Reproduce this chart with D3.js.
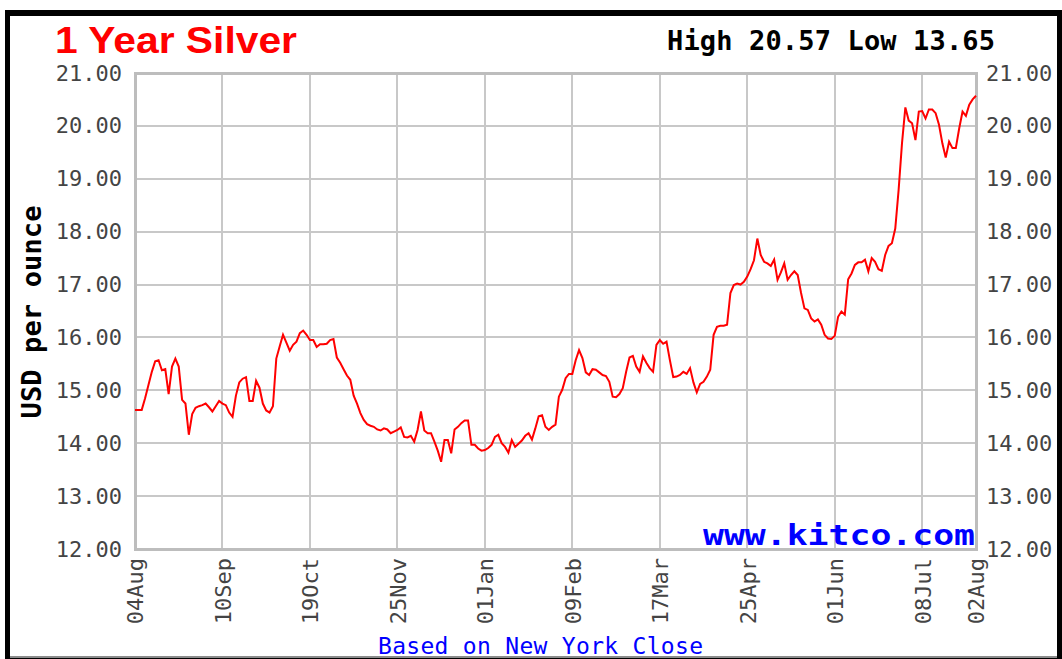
<!DOCTYPE html>
<html>
<head>
<meta charset="utf-8">
<script src="https://cdnjs.cloudflare.com/ajax/libs/d3/7.8.5/d3.min.js"></script>
<style>
    body { margin: 0; background: #fff; }
    svg { display: block; }
    .grid line { stroke: #c8c8c8; stroke-width: 2; shape-rendering: crispEdges; }
    .tick-label { font-family: "DejaVu Sans Mono", monospace; font-size: 22px; fill: #444; }
    .mono-bold { font-family: "DejaVu Sans Mono", monospace; font-weight: bold; }
</style>
</head>
<body>
<svg width="1062" height="659"></svg>
<script>
// Chart data, one value per trading day
let dateTicks = [0, 26, 52, 78, 104, 130, 156, 182, 208, 234, 250];
let dateLabels = ["04Aug", "10Sep", "19Oct", "25Nov", "01Jan", "09Feb", "17Mar", "25Apr", "01Jun", "08Jul", "02Aug"];
let priceTicks = [12, 13, 14, 15, 16, 17, 18, 19, 20, 21];

let prices = [
    14.63, 14.63, 14.63, 14.85, 15.10, 15.35, 15.55, 15.57, 15.38, 15.40,
    14.93, 15.45, 15.60, 15.45, 14.82, 14.75, 14.16, 14.55, 14.67, 14.70,
    14.72, 14.75, 14.68, 14.60, 14.70, 14.80, 14.75, 14.72, 14.58, 14.50,
    14.90, 15.15, 15.22, 15.25, 14.80, 14.80, 15.18, 15.05, 14.75, 14.62,
    14.58, 14.70, 15.60, 15.83, 16.05, 15.90, 15.75, 15.86, 15.92, 16.08,
    16.13, 16.05, 15.95, 15.95, 15.82, 15.87, 15.87, 15.88, 15.95, 15.97,
    15.62, 15.52, 15.40, 15.28, 15.20, 14.90, 14.75, 14.57, 14.44, 14.36,
    14.33, 14.31, 14.26, 14.24, 14.28, 14.26, 14.19, 14.22, 14.25, 14.30,
    14.12, 14.11, 14.14, 14.03, 14.25, 14.60, 14.24, 14.19, 14.19, 14.03,
    13.86, 13.65, 14.06, 14.06, 13.81, 14.26, 14.31, 14.38, 14.43, 14.43,
    13.97, 13.97, 13.90, 13.86, 13.87, 13.91, 13.97, 14.12, 14.16, 14.00,
    13.93, 13.82, 14.06, 13.93, 13.99, 14.05, 14.14, 14.19, 14.07, 14.28,
    14.51, 14.53, 14.31, 14.25, 14.31, 14.35, 14.88, 15.01, 15.23, 15.31,
    15.31, 15.57, 15.76, 15.61, 15.34, 15.29, 15.40, 15.39, 15.34, 15.29,
    15.27, 15.16, 14.88, 14.87, 14.93, 15.04, 15.35, 15.62, 15.65, 15.45,
    15.35, 15.64, 15.52, 15.42, 15.35, 15.86, 15.95, 15.88, 15.92, 15.57,
    15.25, 15.26, 15.29, 15.35, 15.31, 15.42, 15.15, 14.96, 15.12, 15.16,
    15.26, 15.39, 16.05, 16.20, 16.22, 16.22, 16.24, 16.84, 16.99, 17.02,
    17.00, 17.05, 17.15, 17.29, 17.46, 17.87, 17.56, 17.43, 17.40, 17.35,
    17.47, 17.09, 17.23, 17.40, 17.09, 17.18, 17.25, 17.18, 16.84, 16.55,
    16.52, 16.36, 16.30, 16.34, 16.24, 16.05, 15.98, 15.97, 16.03, 16.39,
    16.49, 16.43, 17.10, 17.21, 17.37, 17.42, 17.42, 17.47, 17.25, 17.50,
    17.43, 17.29, 17.26, 17.56, 17.73, 17.78, 18.06, 18.79, 19.67, 20.35,
    20.10, 20.05, 19.73, 20.27, 20.28, 20.14, 20.31, 20.31, 20.24, 20.02,
    19.67, 19.40, 19.70, 19.58, 19.58, 19.95, 20.27, 20.19, 20.40, 20.50,
    20.57
];

// Layout
let svg = d3.select("svg");
let width = 1062;
let height = 659;
let plotLeft = 135, plotRight = 976, plotTop = 73, plotBottom = 549;

// Frame
svg.append("rect").attr("x", 5).attr("y", 10).attr("width", width - 5).attr("height", height - 10).attr("fill", "#000");
svg.append("rect").attr("x", 10).attr("y", 16).attr("width", 1047).attr("height", 640).attr("fill", "#fff");
svg.append("line").attr("x1", 10).attr("x2", 1057).attr("y1", 657).attr("y2", 657)
    .attr("stroke", "#8c8c8c").attr("stroke-width", 2);

// Scales
let xScale = d3.scaleLinear().domain([0, prices.length - 1]).range([plotLeft, plotRight]);
let yScale = d3.scaleLinear().domain([12, 21]).range([plotBottom, plotTop]);

// Grid
let grid = svg.append("g").attr("class", "grid");
grid.selectAll("line.h")
    .data(priceTicks)
    .enter().append("line")
    .attr("class", "h")
    .attr("x1", plotLeft).attr("x2", plotRight)
    .attr("y1", function(d) { return yScale(d); })
    .attr("y2", function(d) { return yScale(d); });

grid.selectAll("line.v")
    .data(dateTicks)
    .enter().append("line")
    .attr("class", "v")
    .attr("x1", function(d) { return xScale(d); })
    .attr("x2", function(d) { return xScale(d); })
    .attr("y1", plotTop).attr("y2", plotBottom);

// Plot border
svg.append("rect")
    .attr("x", plotLeft).attr("y", plotTop)
    .attr("width", plotRight - plotLeft).attr("height", plotBottom - plotTop)
    .attr("fill", "none").attr("stroke", "#bdbdbd").attr("stroke-width", 3)
    .style("shape-rendering", "crispEdges");

// Y axes, left and right
let leftAxis = d3.axisLeft(yScale).tickValues(priceTicks).tickSize(0).tickPadding(13).tickFormat(d3.format(".2f"));
let rightAxis = d3.axisRight(yScale).tickValues(priceTicks).tickSize(0).tickPadding(10).tickFormat(d3.format(".2f"));

function styleAxis(g) {
    g.select(".domain").remove();
    g.attr("font-family", null).attr("font-size", null);
    g.selectAll("text").attr("class", "tick-label").attr("fill", null);
}

svg.append("g").attr("transform", "translate(" + plotLeft + ",0)").call(leftAxis).call(styleAxis);
svg.append("g").attr("transform", "translate(" + plotRight + ",0)").call(rightAxis).call(styleAxis);

// X axis labels, rotated
let xAxis = d3.axisBottom(xScale).tickValues(dateTicks).tickSize(0)
    .tickFormat(function(d, i) { return dateLabels[i]; });

svg.append("g")
    .attr("transform", "translate(0," + plotBottom + ")")
    .call(xAxis)
    .call(styleAxis)
    .selectAll("text")
    .attr("transform", "rotate(-90)")
    .attr("text-anchor", "end")
    .attr("dy", "0.36em")
    .attr("x", -9)
    .attr("y", 0);

// Price line
let line = d3.line()
    .x(function(d, i) { return xScale(i); })
    .y(function(d) { return yScale(d); });

svg.append("path")
    .datum(prices)
    .attr("d", line)
    .attr("fill", "none")
    .attr("stroke", "#ff0000")
    .attr("stroke-width", 2)
    .attr("stroke-linejoin", "miter");

// Titles
svg.append("text")
    .attr("x", 55).attr("y", 53)
    .attr("font-family", "'Liberation Sans', Arial, sans-serif")
    .attr("font-weight", "bold")
    .attr("font-size", 36)
    .attr("fill", "#ff0000")
    .attr("textLength", 242)
    .attr("lengthAdjust", "spacingAndGlyphs")
    .text("1 Year Silver");

svg.append("text")
    .attr("class", "mono-bold")
    .attr("x", 667).attr("y", 50)
    .attr("font-size", 27)
    .attr("fill", "#000")
    .attr("textLength", 328)
    .text("High " + d3.max(prices).toFixed(2) + " Low " + d3.min(prices).toFixed(2));

svg.append("text")
    .attr("class", "mono-bold")
    .attr("transform", "translate(41,312) rotate(-90)")
    .attr("text-anchor", "middle")
    .attr("font-size", 27)
    .attr("fill", "#000")
    .attr("textLength", 213)
    .text("USD per ounce");

svg.append("text")
    .attr("class", "mono-bold")
    .attr("x", 703).attr("y", 545)
    .attr("font-size", 29)
    .attr("fill", "#0000ff")
    .attr("textLength", 272)
    .attr("lengthAdjust", "spacingAndGlyphs")
    .text("www.kitco.com");

svg.append("text")
    .attr("x", 378).attr("y", 654)
    .attr("font-family", "'DejaVu Sans Mono', monospace")
    .attr("font-size", 23)
    .attr("fill", "#0000ff")
    .attr("textLength", 325)
    .text("Based on New York Close");
</script>
</body>
</html>
